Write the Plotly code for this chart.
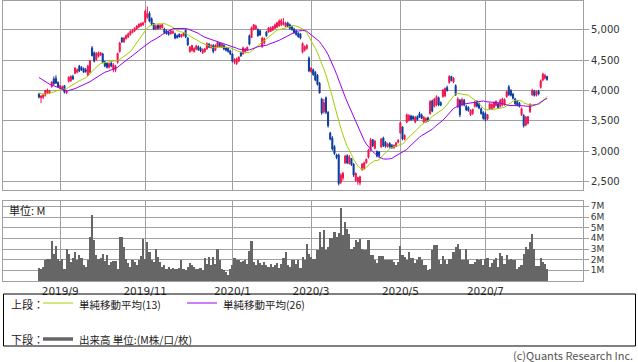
import pandas as pd
import plotly.graph_objects as go

# ---- trading calendar (Tokyo), 2019-08-19 .. 2020-08-14 ----
holidays = ["2019-09-16", "2019-09-23", "2019-10-14", "2019-10-22", "2019-11-04",
            "2019-12-31", "2020-01-01", "2020-01-02", "2020-01-03", "2020-01-13",
            "2020-02-11", "2020-02-24", "2020-03-20", "2020-04-29", "2020-05-04",
            "2020-05-05", "2020-05-06", "2020-07-23", "2020-07-24", "2020-08-10"]
dates = [d.strftime("%Y-%m-%d") for d in
         pd.bdate_range("2019-08-19", "2020-08-14", freq="C", holidays=holidays)]

tick_dates = ["2019-09-02", "2019-11-01", "2020-01-06", "2020-03-02", "2020-05-01", "2020-07-01"]
tick_labels = ["2019/9", "2019/11", "2020/1", "2020/3", "2020/5", "2020/7"]

price_ticks = [2500, 3000, 3500, 4000, 4500, 5000]
vol_ticks = [1, 2, 3, 4, 5, 6, 7]
vol_tick_labels = ["1M", "2M", "3M", "4M", "5M", "6M", "7M"]

# closes of the 25 sessions before the window (needed for the moving averages)
closes_before = [4560, 4540, 4580, 4520, 4500, 4480, 4510, 4460, 4430, 4390, 4410, 4350, 4330,
                 4100, 4050, 3980, 3950, 3920, 3940, 3960, 3900, 3930, 3950, 3960, 3950]

opens = [3940, 3880, 3890, 3920, 3960, 3960, 4060, 4190, 4200, 4130,
         4040, 4030, 4080, 3960, 4150, 4160, 4230, 4280, 4300, 4400,
         4380, 4360, 4340, 4250, 4300, 4700, 4620, 4510, 4560, 4580,
         4600, 4470, 4450, 4380, 4450, 4350, 4330, 4460, 4640, 4860,
         4800, 4850, 4880, 4920, 4950, 4980, 5010, 5040, 5060, 5080,
         5120, 5200, 5270, 5180, 5100, 5010, 5070, 5020, 5030, 5010,
         4980, 4960, 4930, 4940, 4930, 4900, 4920, 4880, 4900, 4990,
         4860, 4640, 4660, 4640, 4680, 4720, 4700, 4620, 4640, 4680,
         4760, 4700, 4740, 4660, 4710, 4780, 4710, 4740, 4700, 4690,
         4650, 4600, 4460, 4440, 4480, 4620, 4600, 4630, 4660, 4900,
         4870, 5000, 5010, 5000, 4980, 4720, 4780, 4960, 4960, 4970,
         4990, 5020, 5040, 5060, 5080, 5080, 5050, 5110, 5080, 5050,
         5010, 4980, 4940, 4930, 4630, 4660, 4690, 4530, 4310, 4340,
         4300, 4250, 4120, 3860, 3650, 3880, 3640, 3300, 3220, 3080,
         2940, 2940, 2490, 2560, 2810, 2930, 2800, 2880, 2790, 2520,
         2500, 2480, 2700, 2720, 2810, 2900, 3020, 3190, 3050, 3000,
         2990, 3070, 3220, 3150, 3080, 3130, 3100, 3060, 3080, 3150,
         3300, 3400, 3200, 3480, 3510, 3580, 3570, 3480, 3570, 3620,
         3600, 3480, 3480, 3550, 3620, 3830, 3740, 3760, 3880, 3800,
         3900, 3910, 4050, 4130, 4230, 4140, 4080, 3730, 3840, 3760,
         3840, 3740, 3720, 3600, 3620, 3740, 3820, 3780, 3700, 3640,
         3620, 3530, 3700, 3700, 3720, 3750, 3780, 3740, 3760, 3770,
         3900, 4060, 4000, 3940, 3860, 3820, 3790, 3600, 3590, 3430,
         3460, 3650, 3930, 3990, 3920, 3990, 4050, 4170, 4200, 4230]

highs = [3960, 3920, 3950, 4010, 4030, 4010, 4150, 4230, 4250, 4150,
         4090, 4080, 4090, 4000, 4230, 4250, 4260, 4380, 4360, 4420,
         4400, 4380, 4370, 4420, 4500, 4730, 4640, 4630, 4640, 4630,
         4620, 4490, 4460, 4460, 4470, 4450, 4420, 4620, 4800, 4880,
         4880, 4920, 4950, 4990, 5010, 5040, 5070, 5100, 5120, 5130,
         5330, 5380, 5300, 5200, 5110, 5080, 5090, 5090, 5090, 5030,
         5000, 4980, 5000, 4990, 4950, 4920, 4940, 4930, 4960, 5010,
         4880, 4730, 4750, 4710, 4750, 4740, 4720, 4690, 4700, 4790,
         4780, 4760, 4760, 4760, 4810, 4790, 4780, 4760, 4720, 4710,
         4670, 4610, 4530, 4540, 4560, 4640, 4720, 4700, 4720, 4920,
         5050, 5090, 5080, 5020, 5000, 4880, 4870, 4980, 5040, 5050,
         5060, 5100, 5130, 5170, 5180, 5190, 5130, 5130, 5100, 5070,
         5030, 5000, 4960, 4940, 4790, 4740, 4760, 4560, 4380, 4360,
         4320, 4270, 4140, 3880, 3860, 3900, 3660, 3320, 3250, 3100,
         2960, 2960, 2640, 2660, 2940, 2950, 2940, 2890, 2810, 2650,
         2580, 2600, 2810, 2830, 2880, 3040, 3220, 3200, 3180, 3010,
         3000, 3220, 3240, 3170, 3140, 3150, 3120, 3110, 3150, 3200,
         3490, 3410, 3280, 3620, 3610, 3600, 3590, 3580, 3590, 3650,
         3620, 3580, 3560, 3570, 3840, 3850, 3880, 3920, 3900, 3820,
         4020, 4050, 4080, 4250, 4240, 4220, 4100, 3890, 3860, 3880,
         3860, 3760, 3740, 3690, 3700, 3830, 3840, 3800, 3720, 3660,
         3640, 3610, 3800, 3790, 3820, 3840, 3800, 3860, 3880, 3870,
         4000, 4090, 4020, 3960, 3880, 3840, 3810, 3720, 3610, 3580,
         3580, 3790, 4030, 4010, 4000, 4010, 4180, 4290, 4270, 4240]

lows = [3870, 3790, 3860, 3900, 3940, 3940, 4050, 4090, 4110, 4050,
        4020, 4010, 3950, 3940, 4130, 4140, 4170, 4270, 4280, 4300,
        4320, 4290, 4290, 4240, 4280, 4560, 4460, 4490, 4540, 4570,
        4450, 4380, 4360, 4360, 4380, 4300, 4300, 4440, 4620, 4780,
        4780, 4840, 4860, 4900, 4940, 4960, 5000, 5030, 5050, 5060,
        5110, 5180, 5120, 5070, 4990, 4990, 5000, 5010, 5020, 4930,
        4920, 4900, 4920, 4930, 4840, 4850, 4870, 4870, 4890, 4860,
        4730, 4620, 4640, 4620, 4660, 4650, 4630, 4600, 4620, 4670,
        4700, 4690, 4610, 4650, 4700, 4710, 4700, 4660, 4640, 4620,
        4580, 4460, 4430, 4420, 4470, 4550, 4590, 4610, 4650, 4740,
        4860, 4990, 5000, 4880, 4900, 4700, 4760, 4880, 4950, 4960,
        4980, 5010, 5030, 5050, 5060, 5070, 5040, 5040, 5000, 4980,
        4930, 4900, 4870, 4840, 4610, 4640, 4670, 4300, 4290, 4240,
        4150, 4080, 3950, 3600, 3620, 3610, 3390, 3180, 3010, 2940,
        2870, 2440, 2460, 2520, 2790, 2790, 2780, 2760, 2580, 2500,
        2450, 2440, 2680, 2700, 2800, 2880, 3000, 3070, 3030, 2900,
        2890, 3060, 3070, 3060, 3060, 3050, 3040, 3040, 3070, 3130,
        3290, 3180, 3180, 3460, 3490, 3500, 3510, 3460, 3500, 3550,
        3530, 3460, 3470, 3480, 3600, 3640, 3720, 3740, 3740, 3740,
        3880, 3890, 3980, 4110, 4150, 4120, 3910, 3710, 3560, 3740,
        3740, 3660, 3650, 3580, 3600, 3720, 3720, 3690, 3600, 3520,
        3490, 3510, 3680, 3680, 3700, 3740, 3700, 3720, 3740, 3750,
        3880, 3910, 3900, 3850, 3760, 3740, 3720, 3580, 3390, 3410,
        3440, 3630, 3910, 3900, 3900, 3920, 4030, 4150, 4180, 4160]

closes = [3890, 3910, 3930, 4000, 4010, 3990, 4140, 4110, 4120, 4060,
          4080, 4060, 3970, 3990, 4220, 4230, 4190, 4370, 4340, 4320,
          4340, 4300, 4310, 4400, 4490, 4570, 4480, 4610, 4620, 4620,
          4460, 4400, 4380, 4440, 4400, 4420, 4400, 4610, 4780, 4800,
          4860, 4900, 4930, 4970, 4990, 5020, 5060, 5090, 5100, 5110,
          5300, 5260, 5140, 5090, 5010, 5060, 5020, 5070, 5080, 4950,
          4930, 4920, 4980, 4970, 4860, 4870, 4880, 4920, 4940, 4880,
          4750, 4710, 4740, 4690, 4730, 4670, 4650, 4670, 4680, 4770,
          4710, 4740, 4640, 4740, 4790, 4720, 4760, 4680, 4660, 4640,
          4600, 4480, 4510, 4520, 4550, 4570, 4700, 4680, 4710, 4760,
          5030, 5080, 5060, 4900, 4910, 4860, 4850, 4900, 5030, 5030,
          5050, 5080, 5110, 5140, 5150, 5120, 5110, 5060, 5020, 5000,
          4950, 4920, 4880, 4860, 4770, 4720, 4740, 4320, 4370, 4260,
          4170, 4100, 3960, 3630, 3800, 3640, 3420, 3200, 3040, 2960,
          2900, 2470, 2610, 2640, 2920, 2810, 2910, 2780, 2610, 2640,
          2570, 2580, 2790, 2810, 2870, 3020, 3190, 3090, 3170, 2920,
          2930, 3200, 3090, 3080, 3120, 3070, 3060, 3100, 3140, 3180,
          3470, 3200, 3260, 3600, 3590, 3520, 3530, 3560, 3520, 3560,
          3540, 3560, 3540, 3500, 3820, 3660, 3860, 3900, 3760, 3760,
          4010, 4030, 4000, 4230, 4160, 4200, 3930, 3860, 3600, 3850,
          3760, 3680, 3670, 3670, 3690, 3810, 3740, 3710, 3620, 3540,
          3520, 3600, 3780, 3770, 3800, 3820, 3710, 3840, 3860, 3850,
          3980, 3930, 3920, 3870, 3780, 3760, 3740, 3700, 3420, 3560,
          3570, 3770, 4000, 3920, 3980, 3940, 4160, 4270, 4250, 4180]

# volume in millions of shares
volumes = [1.21, 1.15, 1.31, 1.93, 2.09, 2.09, 3.74, 2.55, 3.27, 2.09,
           1.84, 2.02, 1.15, 2.96, 2.55, 1.78, 2.15, 2.71, 1.93, 2.40,
           2.15, 1.53, 1.31, 2.00, 4.11, 6.20, 3.80, 2.46, 2.09, 2.15,
           2.55, 1.87, 2.40, 1.46, 1.78, 1.84, 1.84, 1.15, 4.11, 4.11,
           3.18, 2.09, 1.68, 1.31, 1.93, 1.78, 1.46, 1.99, 2.34, 3.96,
           2.02, 3.64, 2.71, 1.93, 1.78, 3.02, 2.24, 1.78, 1.31, 1.53,
           1.15, 1.31, 1.15, 1.21, 1.15, 1.15, 1.25, 1.93, 1.15, 1.00,
           1.31, 1.68, 1.53, 1.31, 1.15, 1.09, 1.21, 1.06, 2.15, 1.62,
           2.24, 1.46, 2.24, 1.62, 3.02, 1.93, 1.09, 1.00, 0.80, 0.59,
           1.15, 1.53, 2.15, 2.00, 1.93, 1.78, 1.84, 1.93, 1.62, 2.77,
           3.71, 1.78, 1.46, 1.93, 1.68, 1.46, 1.78, 1.46, 1.31, 1.62,
           1.31, 1.46, 1.71, 1.21, 1.62, 2.15, 2.71, 1.46, 1.31, 1.93,
           1.93, 1.62, 1.93, 1.25, 2.24, 1.93, 3.49, 2.55, 2.24, 2.09,
           2.09, 2.87, 4.58, 3.18, 4.80, 2.87, 3.18, 4.02, 4.02, 4.58,
           4.11, 4.49, 6.85, 4.27, 5.51, 4.89, 4.42, 3.02, 3.18, 3.80,
           3.64, 3.96, 3.02, 2.87, 2.87, 3.80, 2.40, 2.40, 1.93, 1.71,
           2.34, 2.34, 2.34, 1.99, 1.93, 1.93, 1.93, 1.78, 1.46, 1.78,
           3.27, 2.40, 2.24, 1.93, 2.71, 2.15, 2.15, 1.68, 1.93, 2.24,
           1.93, 1.46, 1.53, 1.00, 1.15, 2.87, 3.33, 3.40, 1.93, 1.62,
           2.34, 1.93, 1.62, 2.02, 2.09, 2.71, 3.18, 3.49, 2.96, 1.99,
           1.99, 2.96, 1.93, 1.62, 1.62, 1.78, 2.09, 1.93, 2.09, 1.46,
           2.09, 2.15, 1.31, 1.68, 1.93, 2.15, 1.31, 2.65, 2.34, 1.62,
           2.46, 1.93, 2.02, 1.93, 1.93, 1.15, 1.31, 1.46, 2.55, 3.18,
           3.02, 3.64, 4.42, 3.02, 1.37, 1.37, 2.15, 1.78, 1.62, 1.15]

n = min(len(dates), len(opens), len(highs), len(lows), len(closes), len(volumes))
dates = dates[:n]

all_closes = pd.Series(closes_before + closes[:n])
ma13 = all_closes.rolling(13).mean().tolist()[-n:]
ma26 = all_closes.rolling(26).mean().tolist()[-n:]

RED = "#f0144c"
BLUE = "#0c3a9e"
GRID = "#a0a0a0"
FONT = "Noto Sans CJK JP"
NUMFONT = "DejaVu Sans"

fig = go.Figure()
fig.add_trace(go.Candlestick(
    x=dates, open=opens[:n], high=highs[:n], low=lows[:n], close=closes[:n],
    increasing=dict(line=dict(color=RED, width=1), fillcolor=RED),
    decreasing=dict(line=dict(color=BLUE, width=1), fillcolor=BLUE),
    whiskerwidth=0, xaxis="x", yaxis="y", showlegend=False, hoverinfo="skip"))
fig.add_trace(go.Scatter(x=dates, y=ma13, mode="lines", line=dict(color="#a0d000", width=1),
                         xaxis="x", yaxis="y", showlegend=False, hoverinfo="skip"))
fig.add_trace(go.Scatter(x=dates, y=ma26, mode="lines", line=dict(color="#9a00f0", width=1),
                         xaxis="x", yaxis="y", showlegend=False, hoverinfo="skip"))
fig.add_trace(go.Bar(x=dates, y=volumes[:n], marker=dict(color="#666666", line=dict(width=0)),
                     xaxis="x2", yaxis="y2", showlegend=False, hoverinfo="skip"))

xrange = [-16.9, n - 1 + 16.9]
common_x = dict(type="category", range=xrange, tickvals=tick_dates, ticktext=tick_labels,
                showgrid=True, gridcolor=GRID, gridwidth=1, showline=True, mirror=True,
                linecolor=GRID, linewidth=1, ticks="", zeroline=False, fixedrange=True)

fig.update_layout(
    width=638, height=362,
    margin=dict(l=3, r=55, t=1, b=81, autoexpand=False),
    paper_bgcolor="white", plot_bgcolor="white",
    font=dict(family=FONT, size=11, color="#333333"),
    bargap=0,
    showlegend=False,
    xaxis=dict(anchor="y", domain=[0, 1], showticklabels=False,
               rangeslider=dict(visible=False), **common_x),
    xaxis2=dict(anchor="y2", domain=[0, 1], showticklabels=True,
                tickfont=dict(family=NUMFONT, size=10.5, color="#333333"), **common_x),
    yaxis=dict(domain=[0.325, 1.0], range=[2364, 5470], side="right",
               tickvals=price_ticks, tickformat=",d", ticks="outside", ticklen=5,
               tickcolor=GRID, showgrid=True, gridcolor=GRID, gridwidth=1,
               showline=True, mirror=True, linecolor=GRID, zeroline=False,
               fixedrange=True, tickfont=dict(family=NUMFONT, size=10, color="#333333")),
    yaxis2=dict(domain=[0, 0.2857], range=[0, 7.5], side="right",
                tickvals=vol_ticks, ticktext=vol_tick_labels, ticks="outside", ticklen=5,
                tickcolor=GRID, showgrid=True, gridcolor=GRID, gridwidth=1,
                showline=True, mirror=True, linecolor=GRID, zeroline=False,
                fixedrange=True,
                tickfont=dict(family=NUMFONT, size=9, color="#333333")),
)

def px_x(p):
    return (p - 3) / 580.0

def px_y(p):
    return (281 - p) / 280.0

shapes = [
    dict(type="rect", xref="paper", yref="paper", x0=px_x(3.5), x1=px_x(635.5),
         y0=px_y(294), y1=px_y(346), line=dict(color="#000000", width=1)),
    dict(type="line", xref="paper", yref="paper", x0=px_x(43), x1=px_x(73),
         y0=px_y(303), y1=px_y(303), line=dict(color="#a0d000", width=1)),
    dict(type="line", xref="paper", yref="paper", x0=px_x(187), x1=px_x(217),
         y0=px_y(303), y1=px_y(303), line=dict(color="#9a00f0", width=1)),
    dict(type="line", xref="paper", yref="paper", x0=px_x(43), x1=px_x(73),
         y0=px_y(339), y1=px_y(339), line=dict(color="#666666", width=3.5)),
]
fig.update_layout(shapes=shapes)

ann = []
def text(s, x, y, anchor="left", size=11, color="#222222"):
    ann.append(dict(text=s, xref="paper", yref="paper", x=px_x(x), y=px_y(y),
                    xanchor=anchor, yanchor="middle", showarrow=False,
                    font=dict(family=FONT, size=size, color=color)))

text("単位: M", 7, 210, size=11, color="#222222")
text("上段：", 9, 304)
text("単純移動平均(13)", 77, 304, size=10.5)
text("単純移動平均(26)", 221, 304, size=10.5)
text("下段：", 9, 339)
text("出来高 単位:(M株/口/枚)", 77, 339, size=10.5)
text("(c)Quants Research Inc.", 635, 355, anchor="right", size=11, color="#555555")
fig.update_layout(annotations=ann)

fig.write_html("out.html",
               config={"displayModeBar": False, "staticPlot": True},
               post_script="document.body.style.margin='0';document.body.style.padding='0';")
